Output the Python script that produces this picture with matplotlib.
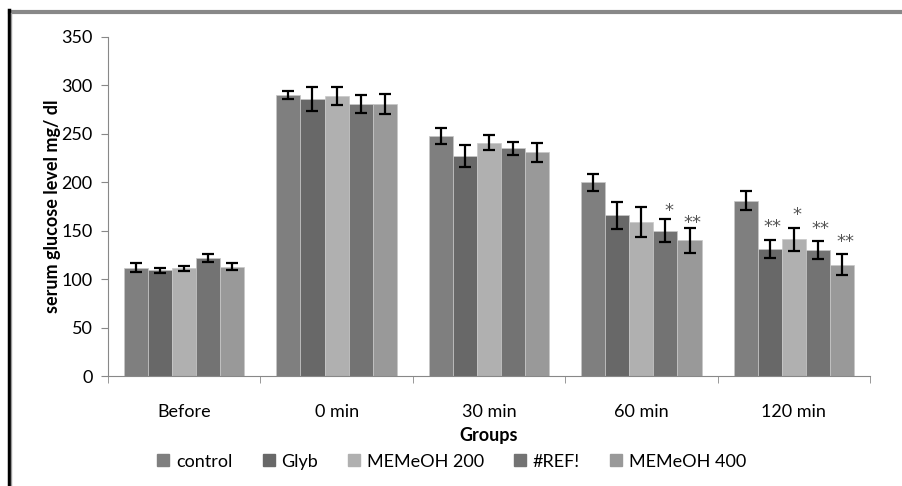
import numpy as np
import matplotlib
matplotlib.use("Agg")
import matplotlib.pyplot as plt
from matplotlib.lines import Line2D

plt.rcParams['font.family'] = ['Lato', 'DejaVu Sans']

groups = ['Before', '0 min', '30 min', '60 min', '120 min']
series = ['control', 'Glyb', 'MEMeOH 200', '#REF!', 'MEMeOH 400']
colors = ['#7f7f7f', '#686868', '#b0b0b0', '#737373', '#999999']

control = [112, 290, 248, 200, 181]
glyb = [109, 286, 227, 166, 131]
memeoh200 = [111, 289, 241, 159, 141]
ref = [122, 281, 235, 150, 130]
memeoh400 = [113, 281, 231, 140, 115]

control_err = [5, 4, 8, 9, 10]
glyb_err = [3, 12, 11, 14, 9]
memeoh200_err = [3, 9, 8, 15, 12]
ref_err = [4, 9, 7, 12, 9]
memeoh400_err = [4, 10, 10, 13, 11]

# significance marks: (series index, group index, text)
stars = [(3, 3, '*'), (4, 3, '**'), (1, 4, '**'), (2, 4, '*'), (3, 4, '**'), (4, 4, '**')]
star_y = [170, 158, 154, 166, 152, 138]

values = [control, glyb, memeoh200, ref, memeoh400]
errors = [control_err, glyb_err, memeoh200_err, ref_err, memeoh400_err]

fig = plt.figure(figsize=(9.02, 4.86), dpi=100)
ax = fig.add_axes([0.1197, 0.2263, 0.8448, 0.6976])

x = np.arange(len(groups))
w = 0.158
for i, (vals, errs) in enumerate(zip(values, errors)):
    pos = x + (i - 2) * w
    ax.bar(pos, vals, w, color=colors[i], edgecolor='#c8c8c8', linewidth=0.5,
           label=series[i], zorder=2)
    ax.errorbar(pos, vals, yerr=errs, fmt='none', ecolor='black',
                elinewidth=1.6, capsize=4, capthick=1.6, zorder=3)

for (si, gi, txt), yy in zip(stars, star_y):
    ax.text(x[gi] + (si - 2) * w + 0.02, yy, txt, ha='center', va='center',
            fontsize=13, color='#555555', family='DejaVu Sans')

ax.set_xlim(-0.5, len(groups) - 0.5)
ax.set_ylim(0, 350)
ax.set_yticks(range(0, 351, 50))
ax.set_xticks(x)
ax.set_xticklabels(groups)
ax.set_xticks(np.arange(-0.5, len(groups), 1), minor=True)
ax.tick_params(axis='x', which='major', length=0, pad=20, labelsize=13)
ax.tick_params(axis='x', which='minor', length=5, color='#888888')
ax.tick_params(axis='y', length=5, color='#888888', labelsize=13, pad=6)
for s in ['top', 'right']:
    ax.spines[s].set_visible(False)
for s in ['left', 'bottom']:
    ax.spines[s].set_color('#888888')

ax.set_ylabel('serum glucose level mg/ dl', fontweight='bold', fontsize=13, labelpad=0)
ax.set_xlabel('Groups', fontweight='bold', fontsize=13, labelpad=5)

handles = [Line2D([], [], marker='s', linestyle='none', markersize=9,
                  color=c) for c in colors]
fig.legend(handles, series, loc='center', bbox_to_anchor=(0.5, 0.05), ncol=5,
           frameon=False, fontsize=13, handlelength=0.8, handletextpad=0.3,
           columnspacing=1.6)

# outer frame
fig.add_artist(Line2D([0.011, 1.0], [0.976, 0.976], color='#888888', lw=3))
fig.add_artist(Line2D([0.0095, 0.0095], [0.0, 0.979], color='black', lw=2.5))
fig.add_artist(Line2D([0.0125, 0.0125], [0.0, 0.974], color='#999999', lw=1))

fig.savefig('out.png', dpi=100)
